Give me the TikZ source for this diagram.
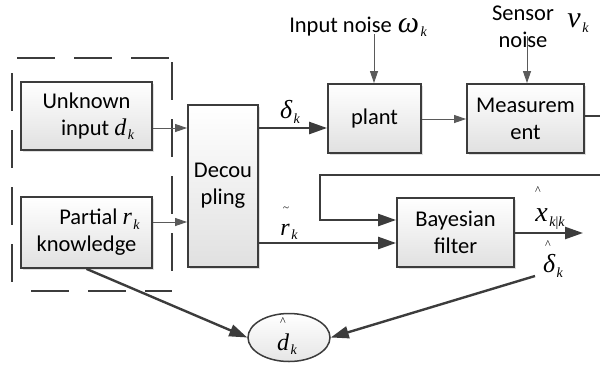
\documentclass[tikz,border=0pt]{standalone}
\usepackage{fontspec}
\setmainfont{Carlito}
\newfontfamily\tms{Liberation Serif}
\usetikzlibrary{arrows.meta,shapes.geometric,shadows}

% italic symbol with subscript: \sym[size]{base}{sub}
\newcommand\sym[3][24]{{\tms\itshape\fontsize{#1}{#1}\selectfont #2\kern1.5pt\raisebox{-4.5pt}{\fontsize{14}{14}\selectfont #3}}}
\newcommand\hatmark{{\tms\fontsize{12}{12}\selectfont\textasciicircum}}
\newcommand\tildemark{{\tms\fontsize{11}{11}\selectfont\textasciitilde}}

\definecolor{edge}{HTML}{3C3C3C}
\definecolor{thinline}{HTML}{5A5A5A}

\tikzset{
  blk/.style={draw=edge, line width=1.8pt, top color=white, bottom color=black!12,
    drop shadow={shadow xshift=1.5pt, shadow yshift=-1.5pt, opacity=0.25},
    align=center, inner sep=0pt, font=\fontsize{22.5}{27}\selectfont},
  txt/.style={inner sep=0pt, font=\fontsize{22.5}{27}\selectfont, align=center},
  thinarrow/.style={draw=thinline, line width=1pt, -{Triangle[length=12pt,width=8pt]}},
  thickarrow/.style={draw=edge, line width=2.4pt, -{Triangle[length=18pt,width=12pt]}},
  grp/.style={draw=edge, line width=2pt, dash pattern=on 38pt off 19pt},
}

\begin{document}
\begin{tikzpicture}[x=1pt,y=-1pt]
\useasboundingbox (0,0) rectangle (600,365);
\clip (0,0) rectangle (600,365);

% dashed group around the two input sources
\draw[grp, dash phase=52pt] (12,58) -- (172,58);
\draw[grp, dash phase=42pt] (12,58) -- (12,290);
\draw[grp, dash phase=38pt] (12,291) -- (172,291);
\draw[grp, dash phase=0pt] (172,62) -- (172,290);

% blocks
\node[blk, minimum width=131pt, minimum height=68pt] (unk) at (86.5,116)
  {Unknown\\ \hspace*{22pt}input \sym{d}{k}};
\node[blk, minimum width=131pt, minimum height=71pt] (part) at (86.5,232.5)
  {\hspace*{26pt}Partial \sym{r}{k}\\ knowledge};
\node[blk, minimum width=70pt, minimum height=162pt] (dec) at (223,186)
  {Decou\\ pling};
\node[blk, minimum width=93pt, minimum height=69pt] (plant) at (374.5,118.5)
  {plant};
\node[blk, minimum width=117pt, minimum height=69pt] (meas) at (525.5,118.5)
  {Measurem\\ ent};
\node[blk, minimum width=117pt, minimum height=69pt] (bay) at (455.5,232.5)
  {Bayesian\\ filter};
\node[ellipse, draw=edge, line width=1.5pt, top color=white, bottom color=black!10,
  minimum width=82pt, minimum height=48pt, inner sep=0pt] (dhat) at (289,337.5) {};

% noise sources
\node[txt] (inoise) at (358,27) {Input noise\hspace{6pt}\sym[30]{\char"03C9}{k}};
\node[txt] (snoise) at (523,27) {Sensor\\ noise};
\node[inner sep=0pt] (nu) at (578,23) {\sym[30]{\char"03BD}{k}};
\coordinate (inarrow) at (374,34);
\coordinate (snarrow) at (527,36);

% signal labels
\node[inner sep=0pt] (dlt) at (290,112) {\sym[26]{\char"03B4}{k}};
\node[inner sep=0pt] (rtl) at (289,232) {\sym{r}{k}};
\node[inner sep=0pt] (rtlmark) at (286,209) {\tildemark};
\node[inner sep=0pt] (xest) at (550,219) {\sym[28]{x}{k\upshape|\itshape k}};
\node[inner sep=0pt] (xestmark) at (538,191) {\hatmark};
\node[inner sep=0pt] (dest) at (553,266) {\sym[26]{\char"03B4}{k}};
\node[inner sep=0pt] (destmark) at (548,245) {\hatmark};
\node[inner sep=0pt] (dk) at (287,344) {\sym{d}{k}};
\node[inner sep=0pt] (dkmark) at (283,322) {\hatmark};

% connectors
\draw[thinarrow] (unk.east |- 0,128) -- (dec.west |- 0,128);
\draw[thinarrow] (part.east |- 0,222) -- (dec.west |- 0,222);
\draw[thickarrow] (dec.east |- 0,128) -- (plant.west |- 0,128);
\draw[thinarrow] (plant.east |- 0,119) -- (meas.west |- 0,119);
\draw[thinarrow] (inarrow) -- (inarrow |- plant.north);
\draw[thinarrow] (snarrow) -- (snarrow |- meas.north);
\draw[thickarrow] (dec.east |- 0,243) -- (bay.west |- 0,243);
\draw[thickarrow] (meas.east |- 0,116) -- (601,116) -- (601,175) -- (320,175)
  -- (320,220) -- (bay.west |- 0,220);
\coordinate (xout) at (583,233);
\draw[thickarrow] (bay.east |- xout) -- (xout);
\draw[thickarrow] (part.south) -- (dhat.west);
\coordinate (dfrom) at (535,276);
\draw[thickarrow] (dfrom) -- (dhat.east);
\end{tikzpicture}
\end{document}
